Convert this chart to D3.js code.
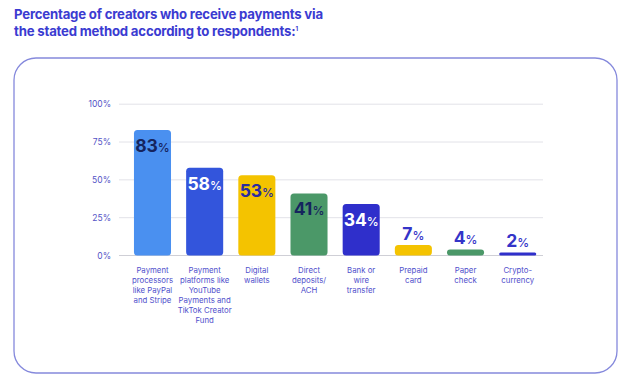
<!DOCTYPE html>
<html><head><meta charset="utf-8">
<script src="https://cdn.jsdelivr.net/npm/d3@7"></script>
<style>
html,body{margin:0;padding:0;background:#fff;}
svg{display:block;font-family:Inter, "Open Sans", sans-serif;}
</style></head>
<body>
<svg id="chart" width="641" height="385"></svg>
<script>
const titleLines = ["Percentage of creators who receive payments via", "the stated method according to respondents:"];
const categories = [
  ["Payment","processors","like PayPal","and Stripe"],
  ["Payment","platforms like","YouTube","Payments and","TikTok Creator","Fund"],
  ["Digital","wallets"],
  ["Direct","deposits/","ACH"],
  ["Bank or","wire","transfer"],
  ["Prepaid","card"],
  ["Paper","check"],
  ["Crypto-","currency"]
];
const values = [83, 58, 53, 41, 34, 7, 4, 2];
const barColors = ["#4a90f0","#3355dc","#f4c300","#4b9868","#2f2fcb","#f4c300","#4b9868","#2f2fcb"];
const labelColors = ["#15245e","#ffffff","#2b2ba0","#15245e","#ffffff","#3434c8","#3434c8","#3434c8"];
const labelInside = [true,true,true,true,true,false,false,false];
const yTicks = [0, 25, 50, 75, 100];

const svg = d3.select("#chart");

// title
const title = svg.append("text").attr("x",14).attr("fill","#3b3bd1")
  .attr("font-size",13.2).attr("font-weight",700).attr("letter-spacing",-0.2);
titleLines.forEach((t,i)=>{
  const ts = title.append("tspan").attr("x",14).attr("y",19+i*17).text(t);
  if(i===1) title.append("tspan").attr("font-size",6).attr("dy",-5).text("1");
});

// box
svg.append("rect").attr("x",14).attr("y",58).attr("width",603).attr("height",315)
  .attr("rx",22).attr("ry",22).attr("fill","none").attr("stroke","#8589dc").attr("stroke-width",1.3);

const x = d3.scaleBand().domain(d3.range(values.length)).range([126.4,543.8])
  .paddingInner(0.29).paddingOuter(0.145);
const y = d3.scaleLinear().domain([0,100]).range([255.5,104.2]);

// grid
const gx0 = 119, gx1 = 543;
svg.append("g").selectAll("line").data(yTicks).join("line")
  .attr("x1",gx0).attr("x2",gx1).attr("y1",d=>y(d)).attr("y2",d=>y(d))
  .attr("stroke",d=>d===0?"#cfcfd6":"#e3e3e8").attr("stroke-width",1);

// y axis labels
const yAxis = d3.axisLeft(y).tickValues(yTicks).tickFormat(d=>d+"%").tickSize(0).tickPadding(0);
const ya = svg.append("g").attr("transform","translate(111,0)").call(yAxis);
ya.select(".domain").remove();
ya.selectAll("text").attr("fill","#5353c6").attr("font-size",8.5).attr("font-family","Inter, sans-serif");

// bars
svg.append("g").selectAll("path").data(values).join("path")
  .attr("fill",(d,i)=>barColors[i])
  .attr("d",(d,i)=>{
    const x0 = x(i), w = x.bandwidth(), y0 = y(d), y1 = y(0), r = Math.min(3.5,(y1-y0)/2);
    return `M${x0},${y1-r} L${x0},${y0+r} Q${x0},${y0} ${x0+r},${y0} L${x0+w-r},${y0} Q${x0+w},${y0} ${x0+w},${y0+r} L${x0+w},${y1-r} Q${x0+w},${y1} ${x0+w-r},${y1} L${x0+r},${y1} Q${x0},${y1} ${x0},${y1-r} Z`;
  });

// value labels
const vl = svg.append("g").selectAll("text").data(values).join("text")
  .attr("x",(d,i)=>x(i)+x.bandwidth()/2)
  .attr("y",(d,i)=>labelInside[i]? y(d)+22 : y(d)-5)
  .attr("text-anchor","middle")
  .attr("fill",(d,i)=>labelColors[i]);
vl.append("tspan").attr("font-size",17.5).attr("font-weight",700).text(d=>d);
vl.append("tspan").attr("font-size",12).attr("font-weight",500).text("%");

// category labels
const cl = svg.append("g").selectAll("text").data(categories).join("text")
  .attr("text-anchor","middle").attr("fill","#5050cc").attr("font-size",7.8);
cl.each(function(lines,i){
  const t = d3.select(this);
  lines.forEach((ln,j)=>{
    t.append("tspan").attr("x",x(i)+x.bandwidth()/2).attr("y",273+j*10).text(ln);
  });
});
</script>
</body></html>
